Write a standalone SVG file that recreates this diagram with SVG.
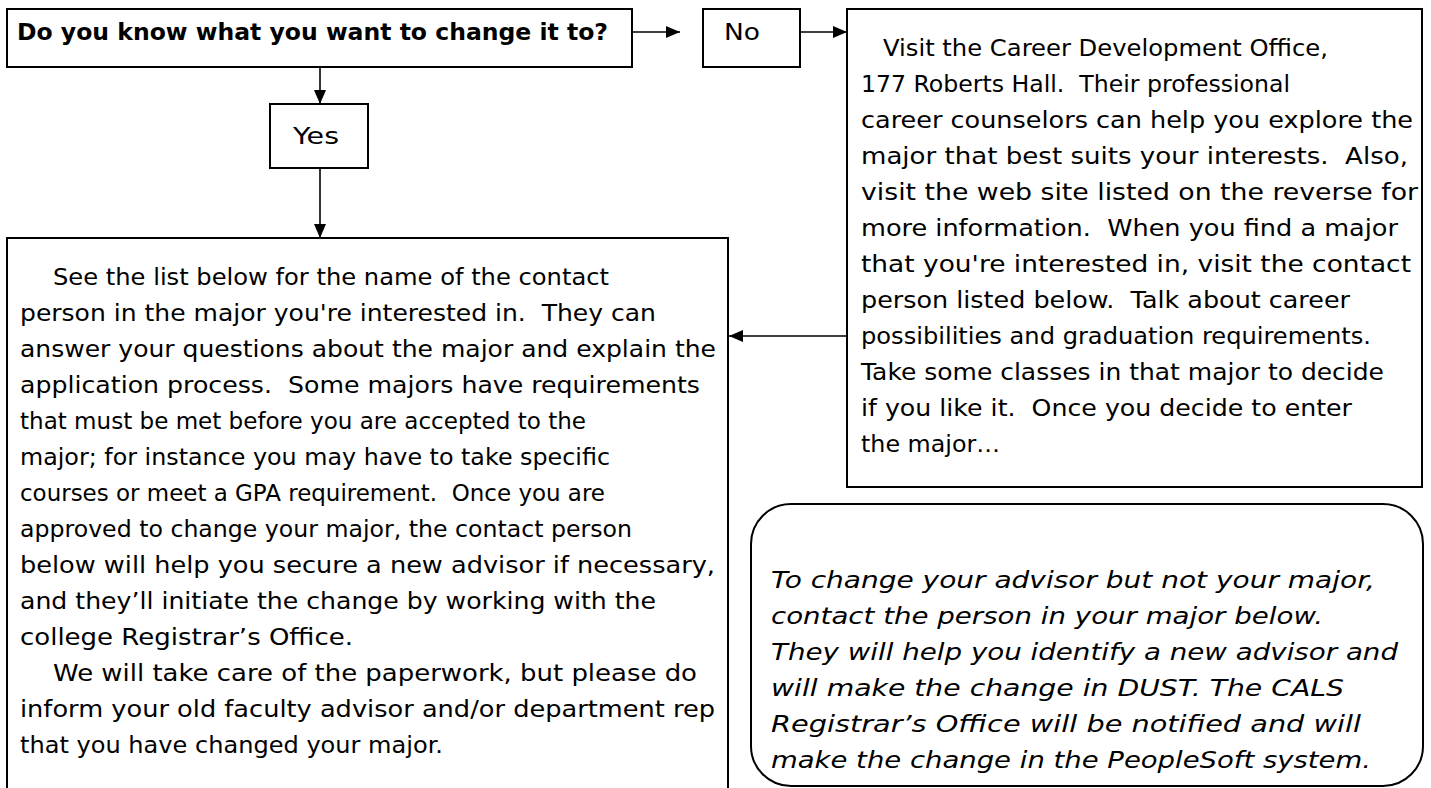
<svg xmlns="http://www.w3.org/2000/svg" width="1431" height="788" viewBox="0 0 1431 788">
<defs>
<style>
.box{fill:#fff;stroke:#000;stroke-width:2}
.t{font-family:"Comic Sans MS","DejaVu Sans",sans-serif;font-size:23px;fill:#000;white-space:pre}
.b{font-weight:bold}
.i{font-style:italic}
.c{stroke:#000;stroke-width:1.6;fill:none;marker-end:url(#ah)}
</style>
<marker id="ah" viewBox="0 0 14 12" refX="14" refY="6" markerWidth="14" markerHeight="12" markerUnits="userSpaceOnUse" orient="auto">
<path d="M0,0 L14,6 L0,12 z" fill="#000"/>
</marker>
</defs>
<rect width="1431" height="788" fill="#fff"/>
<g id="connectors">
<line class="c" x1="632" y1="32" x2="680" y2="32"/>
<line class="c" x1="800" y1="32" x2="847" y2="32"/>
<line class="c" x1="320" y1="67" x2="320" y2="104"/>
<line class="c" x1="320" y1="168" x2="320" y2="238"/>
<line class="c" x1="847" y1="336" x2="729" y2="336"/>
</g>
<g id="question">
<rect class="box" x="7" y="9" width="625" height="58"/>
<text class="t b" x="17" y="40" textLength="591" lengthAdjust="spacingAndGlyphs">Do you know what you want to change it to?</text>
</g>
<g id="no">
<rect class="box" x="703" y="9" width="97" height="58"/>
<text class="t" x="724" y="40" textLength="36" lengthAdjust="spacingAndGlyphs">No</text>
</g>
<g id="yes">
<rect class="box" x="270" y="104" width="98" height="64"/>
<text class="t" x="293" y="144" textLength="46" lengthAdjust="spacingAndGlyphs">Yes</text>
</g>
<g id="career">
<rect class="box" x="847" y="9" width="575" height="478"/>
<text class="t" x="883" y="56" textLength="445" lengthAdjust="spacingAndGlyphs">Visit the Career Development Office,</text>
<text class="t" x="861" y="92" textLength="429" lengthAdjust="spacingAndGlyphs">177 Roberts Hall.  Their professional</text>
<text class="t" x="861" y="128" textLength="552" lengthAdjust="spacingAndGlyphs">career counselors can help you explore the</text>
<text class="t" x="861" y="164" textLength="547" lengthAdjust="spacingAndGlyphs">major that best suits your interests.  Also,</text>
<text class="t" x="861" y="200" textLength="557" lengthAdjust="spacingAndGlyphs">visit the web site listed on the reverse for</text>
<text class="t" x="861" y="236" textLength="537" lengthAdjust="spacingAndGlyphs">more information.  When you find a major</text>
<text class="t" x="861" y="272" textLength="550" lengthAdjust="spacingAndGlyphs">that you're interested in, visit the contact</text>
<text class="t" x="861" y="308" textLength="489" lengthAdjust="spacingAndGlyphs">person listed below.  Talk about career</text>
<text class="t" x="861" y="344" textLength="510" lengthAdjust="spacingAndGlyphs">possibilities and graduation requirements.</text>
<text class="t" x="861" y="380" textLength="523" lengthAdjust="spacingAndGlyphs">Take some classes in that major to decide</text>
<text class="t" x="861" y="416" textLength="491" lengthAdjust="spacingAndGlyphs">if you like it.  Once you decide to enter</text>
<text class="t" x="861" y="452" textLength="139" lengthAdjust="spacingAndGlyphs">the major…</text>
</g>
<g id="contact">
<rect class="box" x="7" y="238" width="721" height="560"/>
<text class="t" x="53" y="285" textLength="556" lengthAdjust="spacingAndGlyphs">See the list below for the name of the contact</text>
<text class="t" x="20" y="321" textLength="636" lengthAdjust="spacingAndGlyphs">person in the major you're interested in.  They can</text>
<text class="t" x="20" y="357" textLength="696" lengthAdjust="spacingAndGlyphs">answer your questions about the major and explain the</text>
<text class="t" x="20" y="393" textLength="680" lengthAdjust="spacingAndGlyphs">application process.  Some majors have requirements</text>
<text class="t" x="20" y="429" textLength="566" lengthAdjust="spacingAndGlyphs">that must be met before you are accepted to the</text>
<text class="t" x="20" y="465" textLength="590" lengthAdjust="spacingAndGlyphs">major; for instance you may have to take specific</text>
<text class="t" x="20" y="501" textLength="585" lengthAdjust="spacingAndGlyphs">courses or meet a GPA requirement.  Once you are</text>
<text class="t" x="20" y="537" textLength="612" lengthAdjust="spacingAndGlyphs">approved to change your major, the contact person</text>
<text class="t" x="20" y="573" textLength="695" lengthAdjust="spacingAndGlyphs">below will help you secure a new advisor if necessary,</text>
<text class="t" x="20" y="609" textLength="636" lengthAdjust="spacingAndGlyphs">and they’ll initiate the change by working with the</text>
<text class="t" x="20" y="645" textLength="333" lengthAdjust="spacingAndGlyphs">college Registrar’s Office.</text>
<text class="t" x="53" y="681" textLength="644" lengthAdjust="spacingAndGlyphs">We will take care of the paperwork, but please do</text>
<text class="t" x="20" y="717" textLength="695" lengthAdjust="spacingAndGlyphs">inform your old faculty advisor and/or department rep</text>
<text class="t" x="20" y="753" textLength="423" lengthAdjust="spacingAndGlyphs">that you have changed your major.</text>
</g>
<g id="advisor-note">
<rect class="box" x="751" y="504" width="672" height="282" rx="40" ry="40"/>
<text class="t i" x="771" y="588" textLength="604" lengthAdjust="spacingAndGlyphs">To change your advisor but not your major,</text>
<text class="t i" x="771" y="624" textLength="552" lengthAdjust="spacingAndGlyphs">contact the person in your major below.</text>
<text class="t i" x="771" y="660" textLength="627" lengthAdjust="spacingAndGlyphs">They will help you identify a new advisor and</text>
<text class="t i" x="771" y="696" textLength="573" lengthAdjust="spacingAndGlyphs">will make the change in DUST. The CALS</text>
<text class="t i" x="771" y="732" textLength="590" lengthAdjust="spacingAndGlyphs">Registrar’s Office will be notified and will</text>
<text class="t i" x="771" y="768" textLength="600" lengthAdjust="spacingAndGlyphs">make the change in the PeopleSoft system.</text>
</g>
</svg>
